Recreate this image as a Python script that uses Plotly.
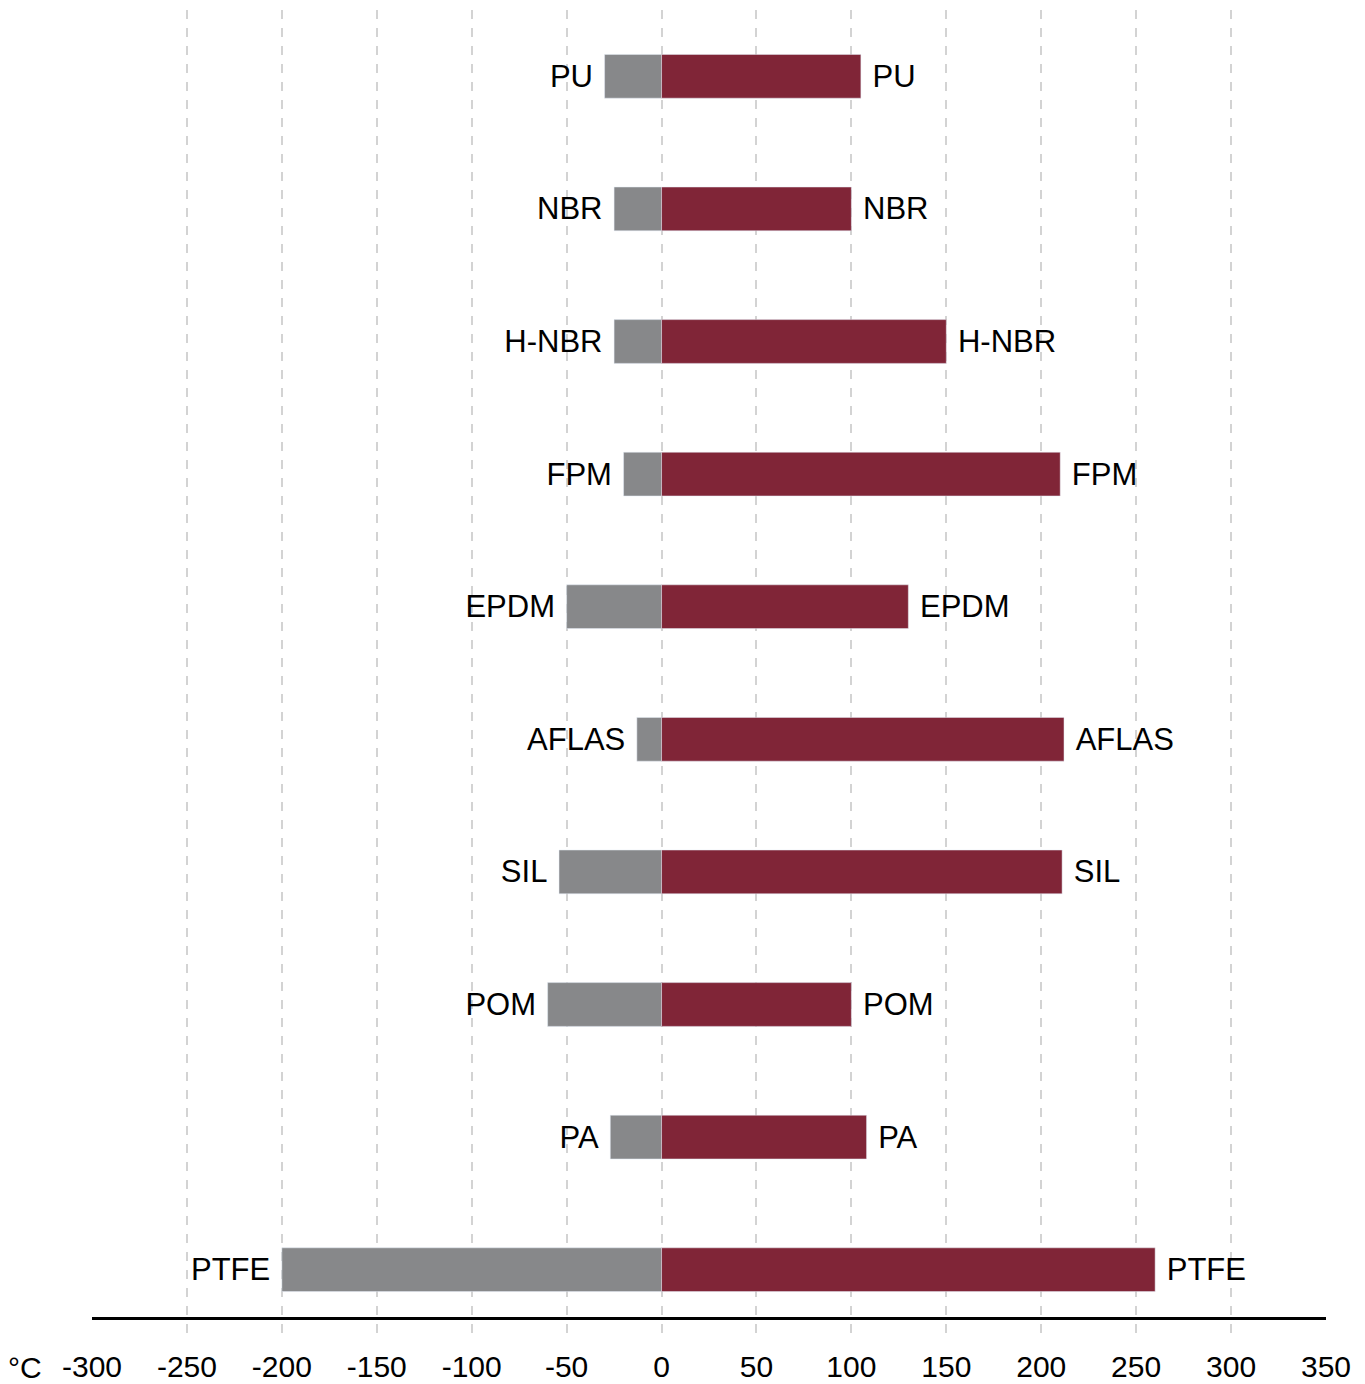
import plotly.graph_objects as go

materials = ["PU", "NBR", "H-NBR", "FPM", "EPDM", "AFLAS", "SIL", "POM", "PA", "PTFE"]
min_temp = [-30, -25, -25, -20, -50, -13, -54, -60, -27, -200]
max_temp = [105, 100, 150, 210, 130, 212, 211, 100, 108, 260]
tick_values = [-300, -250, -200, -150, -100, -50, 0, 50, 100, 150, 200, 250, 300, 350]
unit_label = "°C"

FONT = "Liberation Sans, Arial, sans-serif"
GREY = "#87888a"
RED = "#802537"

fig = go.Figure()
fig.add_trace(go.Bar(
    y=materials, x=min_temp, orientation="h", marker_color=GREY, width=0.33,
    text=[m + "\u00a0" for m in materials], textposition="outside",
    textfont=dict(family=FONT, size=31, color="black"), cliponaxis=False,
    hoverinfo="skip",
))
fig.add_trace(go.Bar(
    y=materials, x=max_temp, orientation="h", marker_color=RED, width=0.33,
    text=["\u00a0" + m for m in materials], textposition="outside",
    textfont=dict(family=FONT, size=31, color="black"), cliponaxis=False,
    hoverinfo="skip",
))

fig.update_layout(
    width=1365, height=1384,
    margin=dict(l=84, r=47, t=2, b=56),
    plot_bgcolor="white", paper_bgcolor="white",
    barmode="overlay", showlegend=False,
    font=dict(family=FONT, size=30, color="black"),
)
fig.update_xaxes(
    range=[-300, 350], tickvals=tick_values, ticktext=[str(v) for v in tick_values],
    showgrid=True, gridcolor="#d3d3d3", gridwidth=2, griddash="dash",
    zeroline=False, anchor="free", position=0.0136,
    showline=True, linecolor="black", linewidth=2.5,
    ticks="", ticklabelstandoff=21, automargin=False,
    tickfont=dict(family=FONT, size=30, color="black"),
)
fig.update_yaxes(
    categoryorder="array", categoryarray=materials[::-1], range=[-0.5, 9.5],
    showticklabels=False, showgrid=False, zeroline=False, showline=False,
    automargin=False,
)
fig.add_annotation(
    text=unit_label, xref="paper", yref="paper", x=0, y=-0.0234,
    xanchor="right", yanchor="middle", xshift=-48, showarrow=False,
    font=dict(family=FONT, size=30, color="black"),
)

fig.write_html("out.html")
